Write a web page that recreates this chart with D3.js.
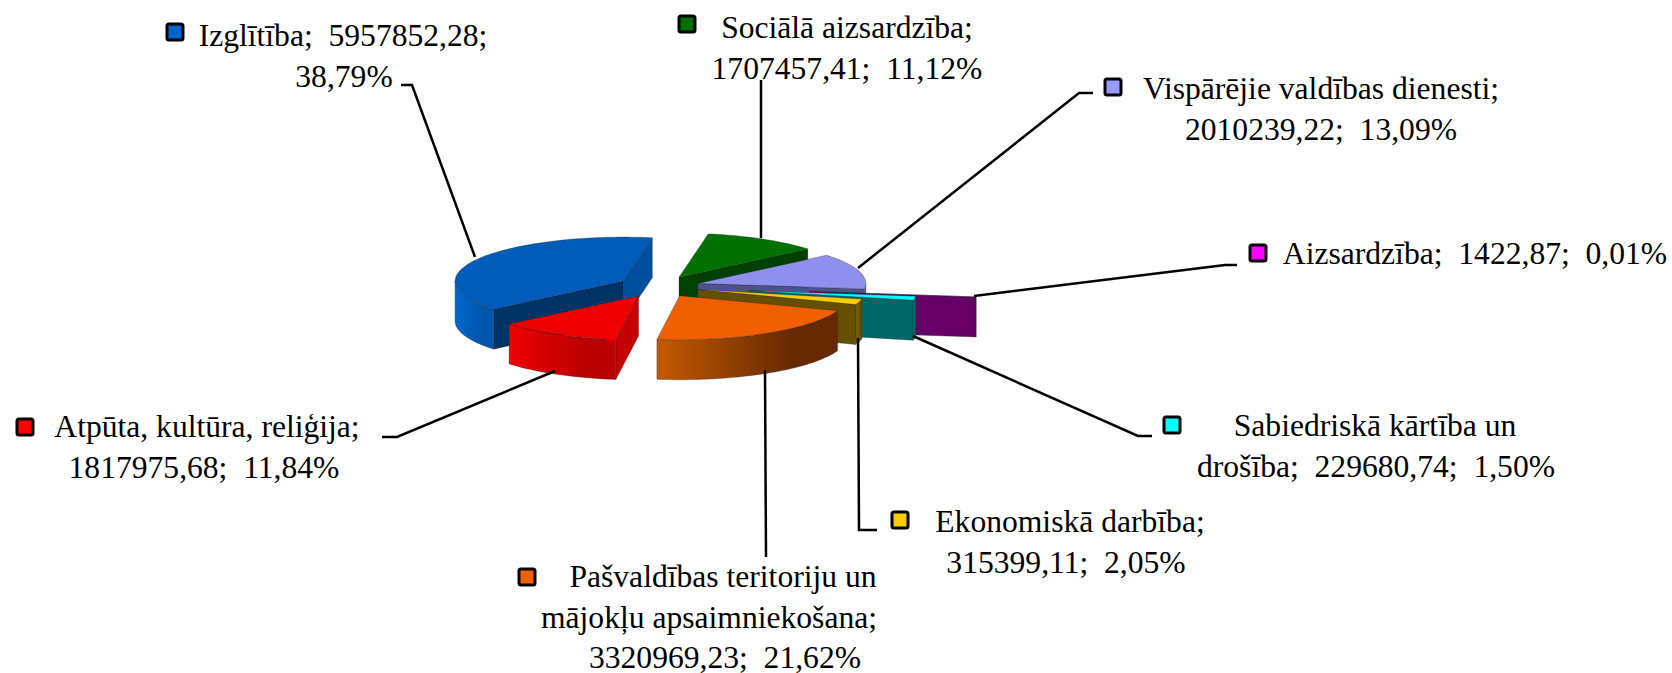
<html>
<head>
<title>Budget pie</title>
<script src="https://d3js.org/d3.v7.min.js"></script>
<style>
body { margin: 0; background: #fff; }
text { font-family: 'Liberation Serif', serif; font-size: 31.6px; fill: #000; }
</style>
</head>
<body>
<div id="chart"></div>
<script>

// data, clockwise in the order the pie has them
var categories = ["Izglītība", "Sociālā aizsardzība", "Vispārējie valdības dienesti", "Aizsardzība",
  "Sabiedriskā kārtība un drošība", "Ekonomiskā darbība", "Pašvaldības teritoriju un mājokļu apsaimniekošana",
  "Atpūta, kultūra, reliģija"];
var values = [5957852.28, 1707457.41, 2010239.22, 1422.87, 229680.74, 315399.11, 3320969.23, 1817975.68];
var percents = ["38,79%", "11,12%", "13,09%", "0,01%", "1,50%", "2,05%", "21,62%", "11,84%"];
var amounts = ["5957852,28", "1707457,41", "2010239,22", "1422,87", "229680,74", "315399,11", "3320969,23", "1817975,68"];

var explode = [0.244, 0.244, 0.244, 0.905, 0.548, 0.244, 0.244, 0.244];

var topColors = ["#005cb8", "#007000", "#8f8fee", "#ff00ff", "#00ffff", "#ffcc00", "#f06000", "#ee0000"];
var keyColors = ["#0066cc", "#007000", "#9999ff", "#ff00ff", "#00ffff", "#ffcc00", "#f06000", "#ff0000"];
var startFace = ["#003366", "#004000", "#50508f", "#660066", "#006666", "#665000", "#662900", "#c40000"];
var endFace = ["#004f9f", "#004000", "#50508f", "#660066", "#006666", "#665000", "#662900", "#c40000"];
var wallFrom = ["#0068cc", "#006000", "#6a6ab0", "#800080", "#008080", "#806600", "#c45a00", "#ee0000"];
var wallTo = ["#0054aa", "#004000", "#50508f", "#660066", "#006666", "#665000", "#662900", "#b80000"];

var width = 1672, height = 673;
var cx = 658.5, cy = 286.5, rx = 168, ry = 44, depth = 40;

var svg = d3.select("#chart").append("svg")
  .attr("width", width)
  .attr("height", height);

var defs = svg.append("defs");

var x = d3.scaleLinear().domain([-1, 1]).range([cx - rx, cx + rx]);
var y = d3.scaleLinear().domain([-1, 1]).range([cy + ry, cy - ry]);

var pie = d3.pie().sort(null)
  .startAngle(-129.6 * Math.PI / 180)
  .endAngle(230.4 * Math.PI / 180);
var slices = pie(values);

var line = d3.line().x(d => d[0]).y(d => d[1]);

// a point on the slice, radius 1 is the rim, z pushes it down the wall
function pt(s, i, r, a, z) {
  var mid = (s.startAngle + s.endAngle) / 2;
  return [x(explode[i] * Math.sin(mid) + r * Math.sin(a)),
          y(explode[i] * Math.cos(mid) + r * Math.cos(a)) + z];
}

function rim(s, i, a0, a1, z) {
  var n = Math.max(2, Math.ceil((a1 - a0) * 40));
  return d3.range(n + 1).map(k => pt(s, i, 1, a0 + (a1 - a0) * k / n, z));
}

function drawFace(g, s, i, a, color) {
  g.append("path")
    .attr("d", line([pt(s, i, 0, a, 0), pt(s, i, 1, a, 0), pt(s, i, 1, a, depth), pt(s, i, 0, a, depth)]) + "Z")
    .attr("fill", color)
    .attr("stroke", "#222").attr("stroke-opacity", 0.5).attr("stroke-width", 0.6);
}

slices.forEach(function(s, i) {
  var g = svg.append("g").attr("class", "slice");

  //side faces only when they look towards the viewer
  if (Math.sin(s.startAngle) < 0) drawFace(g, s, i, s.startAngle, startFace[i]);
  if (Math.sin(s.endAngle) > 0) drawFace(g, s, i, s.endAngle, endFace[i]);

  //outer wall, front half only
  var a0 = Math.max(s.startAngle, Math.PI / 2), a1 = Math.min(s.endAngle, 3 * Math.PI / 2);
  if (s.startAngle < 0) {
    a0 = Math.max(s.startAngle + 2 * Math.PI, Math.PI / 2);
    a1 = Math.min(s.endAngle + 2 * Math.PI, 3 * Math.PI / 2);
  }
  if (a1 > a0) {
    var grad = defs.append("linearGradient").attr("id", "wall" + i);
    // left end of the wall is the far end of the arc
    grad.append("stop").attr("offset", 0).attr("stop-color", wallFrom[i]);
    grad.append("stop").attr("offset", 0.75).attr("stop-color", wallTo[i]);
    grad.append("stop").attr("offset", 1).attr("stop-color", wallTo[i]);
    var top = rim(s, i, a0, a1, 0);
    var bottom = rim(s, i, a0, a1, depth).reverse();
    g.append("path")
      .attr("d", line(top.concat(bottom)) + "Z")
      .attr("fill", "url(#wall" + i + ")")
      .attr("stroke", "#222").attr("stroke-opacity", 0.5).attr("stroke-width", 0.6);
  }

  //top of the slice
  var outline = [pt(s, i, 0, s.startAngle, 0)].concat(rim(s, i, s.startAngle, s.endAngle, 0));
  g.append("path")
    .attr("d", line(outline) + "Z")
    .attr("fill", topColors[i])
    .attr("stroke", "#222").attr("stroke-opacity", 0.5).attr("stroke-width", 0.6);
});

// label lines, key position and leader for each category
var labelLines = [
  [categories[0] + ";  " + amounts[0] + ";", percents[0]],
  ["Sociālā aizsardzība;", amounts[1] + ";  " + percents[1]],
  ["Vispārējie valdības dienesti;", amounts[2] + ";  " + percents[2]],
  [categories[3] + ";  " + amounts[3] + ";  " + percents[3]],
  ["Sabiedriskā kārtība un", "drošība;  " + amounts[4] + ";  " + percents[4]],
  ["Ekonomiskā darbība;", amounts[5] + ";  " + percents[5]],
  ["Pašvaldības teritoriju un", "mājokļu apsaimniekošana;", amounts[6] + ";  " + percents[6]],
  ["Atpūta, kultūra, reliģija;", amounts[7] + ";  " + percents[7]]
];
var labelX = [[343, 344], [847, 847], [1321, 1321], [1475], [1375, 1376], [1070, 1066], [723, 709, 725], [207, 204]];
var labelY = [46, 38, 99, 264, 436, 532, 587, 437];
var keyPos = [[166, 23], [678, 15], [1104, 78], [1249, 244], [1163, 416], [891, 511], [518, 568], [16, 418]];
var leaders = [
  [[401, 85], [412, 85], [475, 257]],
  [[761, 80], [761, 238]],
  [[1093, 93], [1079, 93], [858, 268]],
  [[1237, 265], [1225, 265], [974, 296]],
  [[1152, 436], [1138, 436], [913, 336]],
  [[877, 530], [859, 530], [858, 338]],
  [[766, 557], [765, 370]],
  [[382, 437], [397, 437], [555, 371]]
];

leaders.forEach(function(l) {
  svg.append("path")
    .attr("d", line(l))
    .attr("fill", "none")
    .attr("stroke", "#000")
    .attr("stroke-width", 2.5);
});

categories.forEach(function(c, i) {
  svg.append("rect")
    .attr("x", keyPos[i][0] + 1).attr("y", keyPos[i][1] + 1)
    .attr("width", 16).attr("height", 16).attr("rx", 2)
    .attr("fill", keyColors[i])
    .attr("stroke", "#000").attr("stroke-width", 3);

  labelLines[i].forEach(function(t, j) {
    svg.append("text")
      .attr("x", labelX[i][j])
      .attr("y", labelY[i] + j * 40.5)
      .attr("text-anchor", "middle")
      .style("white-space", "pre")
      .text(t);
  });
});

</script>
</body>
</html>
